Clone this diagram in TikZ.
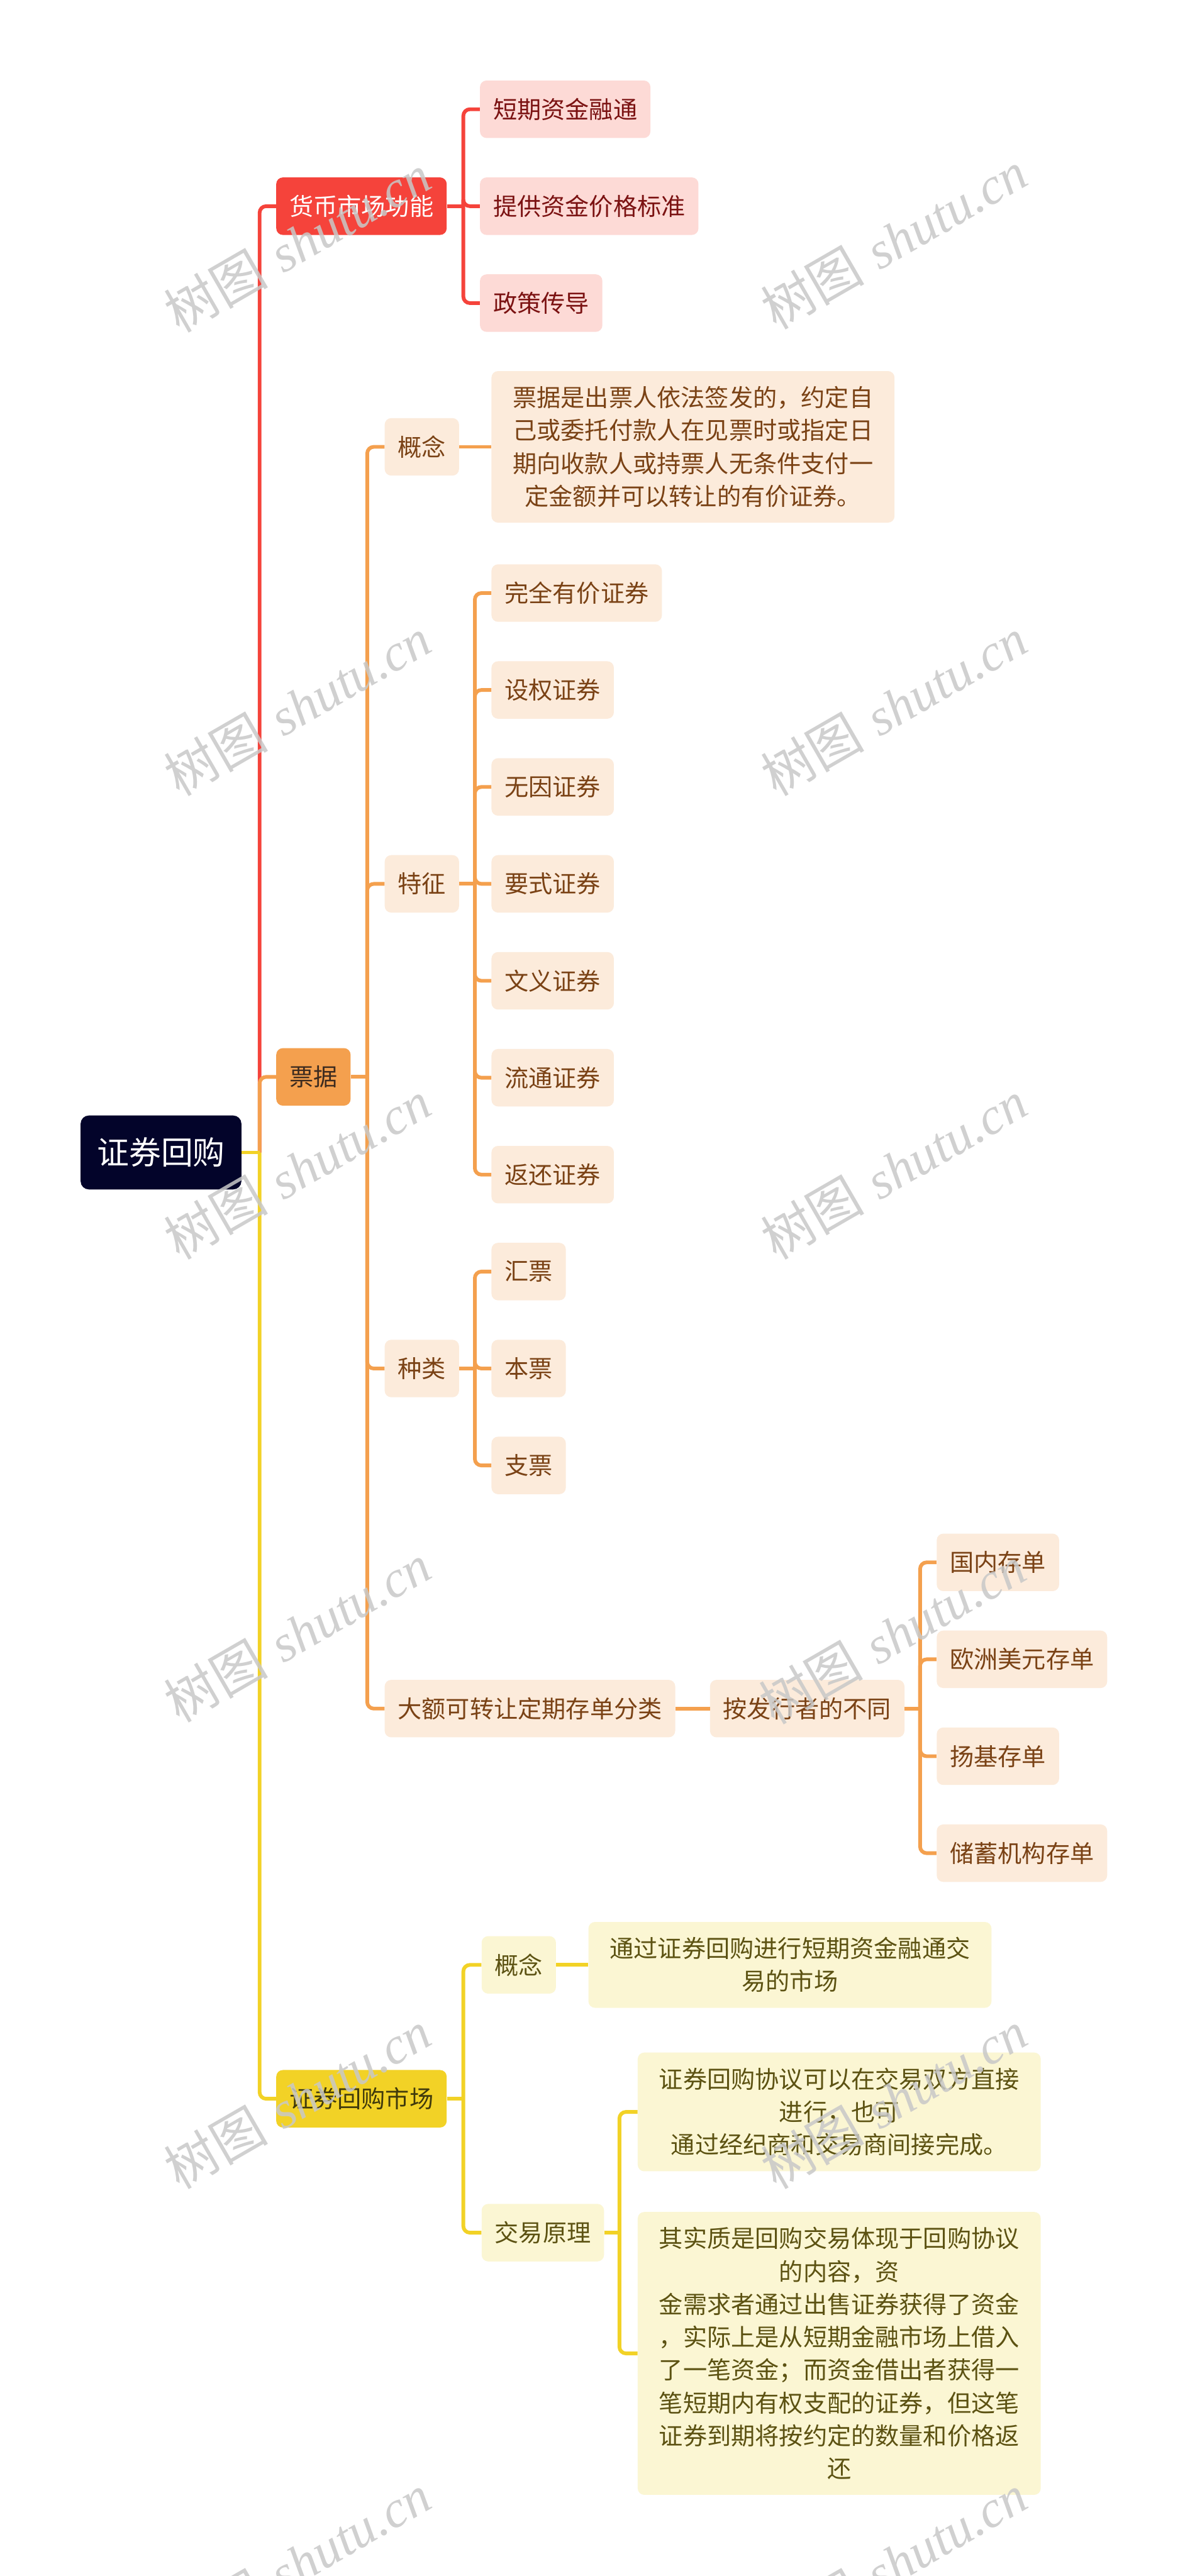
\documentclass[tikz,border=0pt]{standalone}
\usepackage{fontspec}
\newfontfamily\cjk{Noto Sans CJK SC}
\newfontfamily\wmlatin{Liberation Serif}
\definecolor{rootc}{HTML}{03042A}
\definecolor{redc}{HTML}{F5433B}
\definecolor{redfill}{HTML}{FDDAD6}
\definecolor{redtext}{HTML}{7B1212}
\definecolor{orgc}{HTML}{F4A04E}
\definecolor{orgfill}{HTML}{FCEBDB}
\definecolor{orgtext}{HTML}{7A4215}
\definecolor{orgmtext}{HTML}{3D2B1F}
\definecolor{ylwc}{HTML}{F2D226}
\definecolor{ylwfill}{HTML}{FBF6D3}
\definecolor{ylwtext}{HTML}{5C5212}
\definecolor{ylwmtext}{HTML}{403A0C}
\definecolor{wmc}{HTML}{C8C8C8}
\begin{document}
\begin{tikzpicture}[x=0.05cm,y=-0.05cm,
    box/.style={rectangle,rounded corners=0.2cm,inner xsep=0.4cm,inner ysep=0pt,
      minimum height=1.75cm,anchor=west,font=\cjk\fontsize{20.8pt}{28.45pt}\selectfont},
    note/.style={box,align=center,inner xsep=0.65cm,inner ysep=0.465cm,minimum height=0pt},
    rootbox/.style={rectangle,rounded corners=0.25cm,fill=rootc,text=white,inner xsep=0.5cm,
      minimum height=2.25cm,font=\cjk\fontsize{27.7pt}{33pt}\selectfont},
    redmain/.style={box,fill=redc,text=white},
    redleaf/.style={box,fill=redfill,text=redtext},
    orgmain/.style={box,fill=orgc,text=orgmtext},
    orgleaf/.style={box,fill=orgfill,text=orgtext},
    orgnote/.style={note,fill=orgfill,text=orgtext},
    ylwmain/.style={box,fill=ylwc,text=ylwmtext},
    ylwleaf/.style={box,fill=ylwfill,text=ylwtext},
    ylwnote/.style={note,fill=ylwfill,text=ylwtext},
    redline/.style={draw=redc,line width=3.2pt,rounded corners=0.2cm},
    orgline/.style={draw=orgc,line width=3.2pt,rounded corners=0.2cm},
    ylwline/.style={draw=ylwc,line width=3.2pt,rounded corners=0.2cm},
    wmark/.style={text=wmc,opacity=0.85,rotate=30,inner sep=0pt,
      font=\fontsize{45pt}{45pt}\selectfont}]
  \fill[white] (0,0) rectangle (724,1568);%
  \useasboundingbox (0,0) rectangle (724,1568);%

  \node[rootbox] (root) at (98,701.5) {证券回购};%

  % money market functions
  \node[redmain] (hb) at (168,125.5) {货币市场功能};%
  \node[redleaf] (hb1) at (292,66.5) {短期资金融通};%
  \node[redleaf] (hb2) at (292,125.5) {提供资金价格标准};%
  \node[redleaf] (hb3) at (292,184.5) {政策传导};%

  % bills
  \node[orgmain] (pj) at (168,655.5) {票据};%
  \node[orgleaf] (gn) at (234,272) {概念};%
  \node[orgnote] (gnt) at (299,272) {票据是出票人依法签发的，约定自\\己或委托付款人在见票时或指定日\\期向收款人或持票人无条件支付一\\定金额并可以转让的有价证券。};%
  \node[orgleaf] (tz) at (234,538) {特征};%
  \node[orgleaf] (tz1) at (299,361) {完全有价证券};%
  \node[orgleaf] (tz2) at (299,420) {设权证券};%
  \node[orgleaf] (tz3) at (299,479) {无因证券};%
  \node[orgleaf] (tz4) at (299,538) {要式证券};%
  \node[orgleaf] (tz5) at (299,597) {文义证券};%
  \node[orgleaf] (tz6) at (299,656) {流通证券};%
  \node[orgleaf] (tz7) at (299,715) {返还证券};%
  \node[orgleaf] (zl) at (234,833) {种类};%
  \node[orgleaf] (zl1) at (299,774) {汇票};%
  \node[orgleaf] (zl2) at (299,833) {本票};%
  \node[orgleaf] (zl3) at (299,892) {支票};%
  \node[orgleaf] (de) at (234,1040) {大额可转让定期存单分类};%
  \node[orgleaf] (fx) at (432,1040) {按发行者的不同};%
  \node[orgleaf] (fx1) at (570,951) {国内存单};%
  \node[orgleaf] (fx2) at (570,1010) {欧洲美元存单};%
  \node[orgleaf] (fx3) at (570,1069) {扬基存单};%
  \node[orgleaf] (fx4) at (570,1128) {储蓄机构存单};%

  % repo market
  \node[ylwmain] (sc) at (168,1277.5) {证券回购市场};%
  \node[ylwleaf] (gn2) at (293,1196) {概念};%
  \node[ylwnote] (gn2t) at (358,1196) {通过证券回购进行短期资金融通交\\易的市场};%
  \node[ylwleaf] (jy) at (293,1359) {交易原理};%
  \node[ylwnote] (jy1) at (388,1285.5) {证券回购协议可以在交易双方直接\\进行，也可\\通过经纪商和交易商间接完成。};%
  \node[ylwnote] (jy2) at (388,1432.5) {其实质是回购交易体现于回购协议\\的内容，资\\金需求者通过出售证券获得了资金\\，实际上是从短期金融市场上借入\\了一笔资金；而资金借出者获得一\\笔短期内有权支配的证券，但这笔\\证券到期将按约定的数量和价格返\\还};%

  % bus points
  \coordinate (rb) at (158,701.5);%
  \coordinate (hbb) at (282,125.5);%
  \coordinate (pjb) at (223.5,655.5);%
  \coordinate (tzb) at (289,538);%
  \coordinate (zlb) at (289,833);%
  \coordinate (fxb) at (560,1040);%
  \coordinate (scb) at (282,1277.5);%
  \coordinate (jyb) at (377,1359);%

  % root to branches
  \draw[redline] (rb) |- (hb.west);%
  \draw[orgline] (rb) |- (pj.west);%
  \draw[ylwline] (rb) |- (sc.west);%
  \draw[ylwline] (root.east) -- (rb);%

  \draw[redline] (hb.east) -- (hbb);%
  \draw[redline] (hbb) |- (hb1.west);%
  \draw[redline] (hbb) |- (hb2.west);%
  \draw[redline] (hbb) |- (hb3.west);%

  \draw[orgline] (pj.east) -- (pjb);%
  \draw[orgline] (pjb) |- (gn.west);%
  \draw[orgline] (pjb) |- (tz.west);%
  \draw[orgline] (pjb) |- (zl.west);%
  \draw[orgline] (pjb) |- (de.west);%
  \draw[orgline] (gn.east) -- (gnt.west);%
  \draw[orgline] (tz.east) -- (tzb);%
  \draw[orgline] (tzb) |- (tz1.west);%
  \draw[orgline] (tzb) |- (tz2.west);%
  \draw[orgline] (tzb) |- (tz3.west);%
  \draw[orgline] (tzb) |- (tz4.west);%
  \draw[orgline] (tzb) |- (tz5.west);%
  \draw[orgline] (tzb) |- (tz6.west);%
  \draw[orgline] (tzb) |- (tz7.west);%
  \draw[orgline] (zl.east) -- (zlb);%
  \draw[orgline] (zlb) |- (zl1.west);%
  \draw[orgline] (zlb) |- (zl2.west);%
  \draw[orgline] (zlb) |- (zl3.west);%
  \draw[orgline] (de.east) -- (fx.west);%
  \draw[orgline] (fx.east) -- (fxb);%
  \draw[orgline] (fxb) |- (fx1.west);%
  \draw[orgline] (fxb) |- (fx2.west);%
  \draw[orgline] (fxb) |- (fx3.west);%
  \draw[orgline] (fxb) |- (fx4.west);%

  \draw[ylwline] (sc.east) -- (scb);%
  \draw[ylwline] (scb) |- (gn2.west);%
  \draw[ylwline] (scb) |- (jy.west);%
  \draw[ylwline] (gn2.east) -- (gn2t.west);%
  \draw[ylwline] (jy.east) -- (jyb);%
  \draw[ylwline] (jyb) |- (jy1.west);%
  \draw[ylwline] (jyb) |- (jy2.west);%

  % watermarks
  \node[wmark] (wm1) at (181,148) {{\cjk 树图} {\wmlatin\itshape shutu.cn}};%
  \node[wmark] (wm2) at (544,146) {{\cjk 树图} {\wmlatin\itshape shutu.cn}};%
  \node[wmark] (wm3) at (181,430) {{\cjk 树图} {\wmlatin\itshape shutu.cn}};%
  \node[wmark] (wm4) at (544,430) {{\cjk 树图} {\wmlatin\itshape shutu.cn}};%
  \node[wmark] (wm5) at (181,712) {{\cjk 树图} {\wmlatin\itshape shutu.cn}};%
  \node[wmark] (wm6) at (544,712) {{\cjk 树图} {\wmlatin\itshape shutu.cn}};%
  \node[wmark] (wm7) at (181,994) {{\cjk 树图} {\wmlatin\itshape shutu.cn}};%
  \node[wmark] (wm8) at (543,995) {{\cjk 树图} {\wmlatin\itshape shutu.cn}};%
  \node[wmark] (wm9) at (181,1278) {{\cjk 树图} {\wmlatin\itshape shutu.cn}};%
  \node[wmark] (wm10) at (544,1278) {{\cjk 树图} {\wmlatin\itshape shutu.cn}};%
  \node[wmark] (wm11) at (181,1560) {{\cjk 树图} {\wmlatin\itshape shutu.cn}};%
  \node[wmark] (wm12) at (544,1560) {{\cjk 树图} {\wmlatin\itshape shutu.cn}};%
\end{tikzpicture}
\end{document}
